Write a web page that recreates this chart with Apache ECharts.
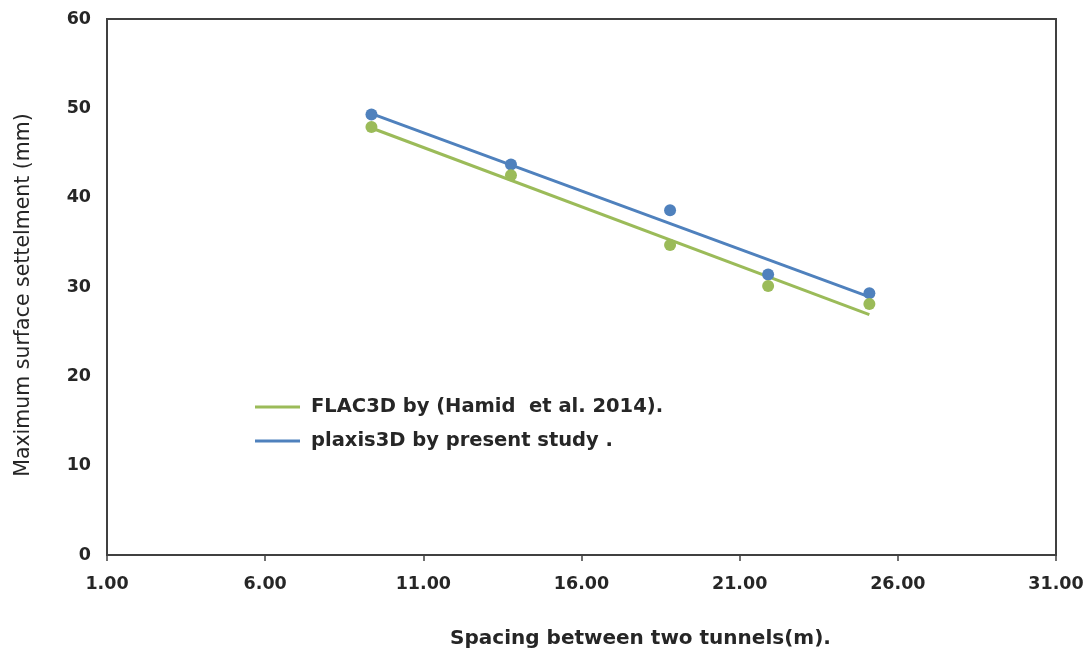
<!DOCTYPE html>
<html>
<head>
<meta charset="utf-8">
<script src="https://cdn.jsdelivr.net/npm/echarts@6/dist/echarts.min.js"></script>
<style>
html,body{margin:0;padding:0;background:#fff;}
#chart{width:1090px;height:654px;}
</style>
</head>
<body>
<div id="chart"></div>
<script>
// Data
const spacing = [9.36, 13.77, 18.8, 21.9, 25.1];
const flacValues = [47.9, 42.5, 34.7, 30.1, 28.1];
const plaxisValues = [49.3, 43.7, 38.6, 31.4, 29.3];
// Linear trendline end points
const trendX = [9.36, 25.1];
const flacTrend = [47.8, 26.9];
const plaxisTrend = [49.4, 28.9];
const seriesNames = ['FLAC3D by (Hamid  et al. 2014).', 'plaxis3D by present study .'];
const xTicks = { min: 1, max: 31, interval: 5 };
const yTicks = { min: 0, max: 60, interval: 10 };

const green = '#9BBB59';
const blue = '#4F81BD';
const axisColor = '#404040';
const textColor = '#262626';
const font = '"DejaVu Sans", "Liberation Sans", sans-serif';

const pairs = (xs, ys) => xs.map((x, i) => [x, ys[i]]);

const chart = echarts.init(document.getElementById('chart'));
chart.setOption({
  animation: false,
  backgroundColor: '#ffffff',
  grid: {
    left: 107, top: 19, right: 34, bottom: 97,
    show: true, borderColor: axisColor, borderWidth: 2, backgroundColor: 'transparent'
  },
  legend: {
    orient: 'vertical',
    left: 250, top: 390,
    itemWidth: 45, itemHeight: 3, itemGap: 10,
    icon: 'rect',
    data: seriesNames,
    textStyle: { fontFamily: font, fontWeight: 'bold', fontSize: 19.5, lineHeight: 24, color: textColor, padding: [0, 0, 0, 6] }
  },
  xAxis: {
    type: 'value',
    min: xTicks.min, max: xTicks.max, interval: xTicks.interval,
    name: 'Spacing between two tunnels(m).',
    nameLocation: 'middle', nameGap: 74,
    nameTextStyle: { fontFamily: font, fontWeight: 'bold', fontSize: 20, color: textColor, padding: [0, 0, 0, 118] },
    axisLine: { show: true, lineStyle: { color: axisColor, width: 2 } },
    axisTick: { show: true, length: 6, lineStyle: { color: axisColor, width: 1.5 } },
    axisLabel: {
      fontFamily: font, fontWeight: 'bold', fontSize: 17.5, color: textColor, margin: 20,
      formatter: v => v.toFixed(2)
    },
    splitLine: { show: false }
  },
  yAxis: {
    type: 'value',
    min: yTicks.min, max: yTicks.max, interval: yTicks.interval,
    name: 'Maximum surface settelment (mm)',
    nameLocation: 'middle', nameGap: 73,
    nameTextStyle: { fontFamily: font, fontWeight: 'normal', fontSize: 20.5, color: textColor, padding: [0, 16, 0, 0] },
    axisLine: { show: true, lineStyle: { color: axisColor, width: 2 } },
    axisTick: { show: false },
    axisLabel: { fontFamily: font, fontWeight: 'bold', fontSize: 17.5, color: textColor, margin: 16 },
    splitLine: { show: false }
  },
  series: [
    {
      name: seriesNames[0], type: 'line', data: pairs(trendX, flacTrend),
      showSymbol: false, symbol: 'none',
      lineStyle: { color: green, width: 3 }, itemStyle: { color: green }, z: 2
    },
    {
      name: seriesNames[1], type: 'line', data: pairs(trendX, plaxisTrend),
      showSymbol: false, symbol: 'none',
      lineStyle: { color: blue, width: 3 }, itemStyle: { color: blue }, z: 2
    },
    {
      name: 'plaxisPoints', type: 'scatter', data: pairs(spacing, plaxisValues),
      symbol: 'circle', symbolSize: 12, itemStyle: { color: blue, opacity: 1 }, z: 3
    },
    {
      name: 'flacPoints', type: 'scatter', data: pairs(spacing, flacValues),
      symbol: 'circle', symbolSize: 12, itemStyle: { color: green, opacity: 1 }, z: 4
    }
  ]
});
</script>
</body>
</html>
